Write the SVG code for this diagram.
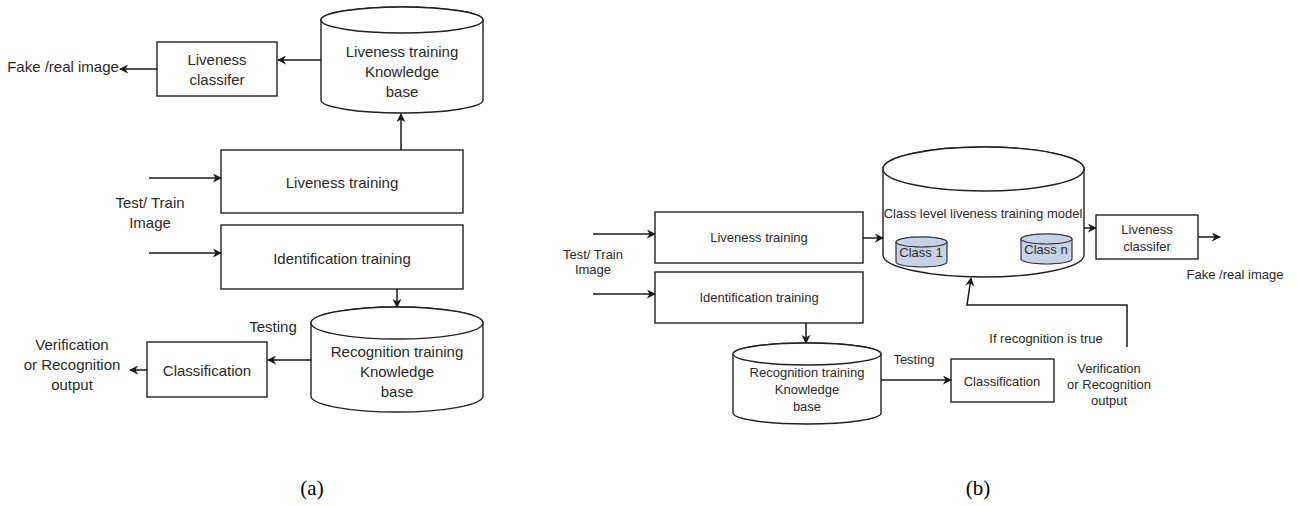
<svg xmlns="http://www.w3.org/2000/svg" width="1298" height="506" viewBox="0 0 1298 506">
  <style>
    .shape { fill: #ffffff; stroke: #222222; stroke-width: 1.4; }
    .sub { fill: #c6d3e6; stroke: #333333; stroke-width: 1.2; }
    .edge { fill: none; stroke: #1a1a1a; stroke-width: 1.5; }
    .ta { font-family: "Liberation Sans", Arial, sans-serif; font-size: 15px; fill: #2a2a2a; text-anchor: middle; }
    .tb { font-family: "Liberation Sans", Arial, sans-serif; font-size: 13px; fill: #2a2a2a; text-anchor: middle; }
    .cap { font-family: "Liberation Serif", "Times New Roman", serif; font-size: 21px; fill: #000000; text-anchor: middle; }
  </style>
  <defs>
    <marker id="arrow" viewBox="0 0 10 10" refX="9" refY="5" markerWidth="9" markerHeight="9" markerUnits="userSpaceOnUse" orient="auto">
      <path d="M0,0 L10,5 L0,10 L3,5 z" fill="#1a1a1a"/>
    </marker>
  </defs>
  <rect width="1298" height="506" fill="#ffffff"/>

  <!-- Panel (a) -->
  <g id="a-liveness-kb">
    <path class="shape" d="M321,20 L321,100 A81,13 0 0 0 483,100 L483,20 A81,13 0 0 0 321,20 Z"/>
    <ellipse class="shape" cx="402" cy="20" rx="81" ry="13"/>
    <text class="ta" x="402" y="57">Liveness training</text>
    <text class="ta" x="402" y="77">Knowledge</text>
    <text class="ta" x="402" y="97">base</text>
  </g>
  <g id="a-liveness-classifier">
    <rect class="shape" x="157" y="42" width="120" height="54"/>
    <text class="ta" x="217" y="65">Liveness</text>
    <text class="ta" x="217" y="85">classifer</text>
  </g>
  <g id="a-liveness-training">
    <rect class="shape" x="221" y="150" width="242" height="63"/>
    <text class="ta" x="342" y="188">Liveness training</text>
  </g>
  <g id="a-identification-training">
    <rect class="shape" x="221" y="225" width="242" height="64"/>
    <text class="ta" x="342" y="264">Identification training</text>
  </g>
  <g id="a-recognition-kb">
    <path class="shape" d="M311,323 L311,396 A86,16 0 0 0 483,396 L483,323 A86,16 0 0 0 311,323 Z"/>
    <ellipse class="shape" cx="397" cy="323" rx="86" ry="16"/>
    <text class="ta" x="397" y="357">Recognition training</text>
    <text class="ta" x="397" y="377">Knowledge</text>
    <text class="ta" x="397" y="397">base</text>
  </g>
  <g id="a-classification">
    <rect class="shape" x="147" y="342" width="120" height="55"/>
    <text class="ta" x="207" y="376">Classification</text>
  </g>
  <g id="a-labels">
    <text class="ta" x="63" y="72">Fake /real image</text>
    <text class="ta" x="150" y="208">Test/ Train</text>
    <text class="ta" x="150" y="228">Image</text>
    <text class="ta" x="273" y="332">Testing</text>
    <text class="ta" x="72" y="350">Verification</text>
    <text class="ta" x="72" y="370">or Recognition</text>
    <text class="ta" x="72" y="390">output</text>
  </g>

  <!-- Panel (b) -->
  <g id="b-liveness-training">
    <rect class="shape" x="655" y="212" width="208" height="51"/>
    <text class="tb" x="759" y="242">Liveness training</text>
  </g>
  <g id="b-identification-training">
    <rect class="shape" x="655" y="272" width="208" height="51"/>
    <text class="tb" x="759" y="302">Identification training</text>
  </g>
  <g id="b-recognition-kb">
    <path class="shape" d="M733,354 L733,413 A74,11 0 0 0 881,413 L881,354 A74,11 0 0 0 733,354 Z"/>
    <ellipse class="shape" cx="807" cy="354" rx="74" ry="11"/>
    <text class="tb" x="807" y="377">Recognition training</text>
    <text class="tb" x="807" y="394">Knowledge</text>
    <text class="tb" x="807" y="411">base</text>
  </g>
  <g id="b-class-model">
    <path class="shape" d="M883,169 L883,255 A100.5,22 0 0 0 1084,255 L1084,169 A100.5,22 0 0 0 883,169 Z"/>
    <ellipse class="shape" cx="983.5" cy="169" rx="100.5" ry="22"/>
    <text class="tb" x="983" y="218">Class level liveness training model</text>
    <g id="b-class-1">
      <path class="sub" d="M896,242 L896,262 A25.5,5 0 0 0 947,262 L947,242 A25.5,5 0 0 0 896,242 Z"/>
      <ellipse class="sub" cx="921.5" cy="242" rx="25.5" ry="5"/>
      <text class="tb" x="921" y="257">Class 1</text>
    </g>
    <g id="b-class-n">
      <path class="sub" d="M1021,239 L1021,259 A25.5,5 0 0 0 1072,259 L1072,239 A25.5,5 0 0 0 1021,239 Z"/>
      <ellipse class="sub" cx="1046.5" cy="239" rx="25.5" ry="5"/>
      <text class="tb" x="1046" y="254">Class n</text>
    </g>
  </g>
  <g id="b-liveness-classifier">
    <rect class="shape" x="1096" y="215" width="102" height="44"/>
    <text class="tb" x="1147" y="234">Liveness</text>
    <text class="tb" x="1147" y="251">classifer</text>
  </g>
  <g id="b-classification">
    <rect class="shape" x="951" y="359" width="103" height="43"/>
    <text class="tb" x="1002" y="386">Classification</text>
  </g>
  <g id="b-labels">
    <text class="tb" x="593" y="259">Test/ Train</text>
    <text class="tb" x="593" y="274">Image</text>
    <text class="tb" x="1235" y="279">Fake /real image</text>
    <text class="tb" x="1046" y="343">If recognition is true</text>
    <text class="tb" x="914" y="364">Testing</text>
    <text class="tb" x="1109" y="373">Verification</text>
    <text class="tb" x="1109" y="389">or Recognition</text>
    <text class="tb" x="1109" y="405">output</text>
  </g>

  <!-- Connectors -->
  <g id="connectors">
    <!-- (a) -->
    <line class="edge" x1="321" y1="60" x2="278" y2="60" marker-end="url(#arrow)"/>
    <line class="edge" x1="157" y1="69" x2="120" y2="69" marker-end="url(#arrow)"/>
    <line class="edge" x1="401" y1="150" x2="401" y2="114" marker-end="url(#arrow)"/>
    <line class="edge" x1="149" y1="178" x2="221" y2="178" marker-end="url(#arrow)"/>
    <line class="edge" x1="149" y1="253" x2="221" y2="253" marker-end="url(#arrow)"/>
    <line class="edge" x1="397" y1="289" x2="397" y2="307" marker-end="url(#arrow)"/>
    <line class="edge" x1="311" y1="360" x2="268" y2="360" marker-end="url(#arrow)"/>
    <line class="edge" x1="147" y1="370" x2="130" y2="370" marker-end="url(#arrow)"/>
    <!-- (b) -->
    <line class="edge" x1="593" y1="234" x2="655" y2="234" marker-end="url(#arrow)"/>
    <line class="edge" x1="593" y1="294" x2="655" y2="294" marker-end="url(#arrow)"/>
    <line class="edge" x1="863" y1="238" x2="883" y2="238" marker-end="url(#arrow)"/>
    <line class="edge" x1="806" y1="323" x2="806" y2="343" marker-end="url(#arrow)"/>
    <line class="edge" x1="1084" y1="228" x2="1096" y2="228" marker-end="url(#arrow)"/>
    <line class="edge" x1="1198" y1="237" x2="1220" y2="237" marker-end="url(#arrow)"/>
    <line class="edge" x1="881" y1="380" x2="951" y2="380" marker-end="url(#arrow)"/>
    <polyline class="edge" points="1127,347 1127,305 967,305 971,278" marker-end="url(#arrow)"/>
  </g>

  <!-- Captions -->
  <text class="cap" x="312" y="495">(a)</text>
  <text class="cap" x="978" y="495">(b)</text>
</svg>
